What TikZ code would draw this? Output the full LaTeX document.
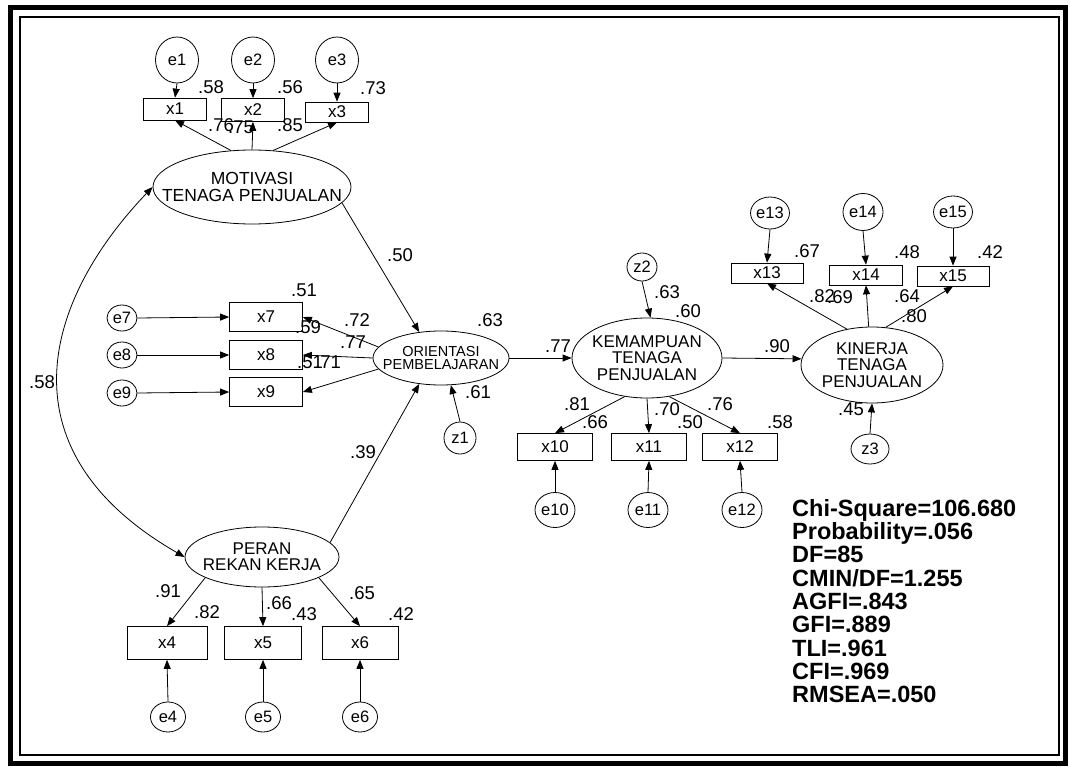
\documentclass[tikz,border=0pt]{standalone}
\usepackage{fontspec}
\setmainfont{Liberation Sans}
\usetikzlibrary{arrows.meta, positioning, shapes.geometric}

\begin{document}
\begin{tikzpicture}[x=1pt, y=-1pt,
  obs/.style={rectangle, draw, line width=0.7pt, inner sep=0pt, font=\fontsize{17}{17}\selectfont},
  err/.style={ellipse, draw, line width=0.8pt, inner sep=0pt, font=\fontsize{16.5}{16.5}\selectfont},
  lat/.style={ellipse, draw, line width=0.8pt, inner xsep=-40pt, inner ysep=-6pt, align=center,
              font=\fontsize{17}{16.3}\selectfont},
  coef/.style={inner sep=0pt, font=\fontsize{18.5}{18.5}\selectfont},
  arr/.style={-{Triangle[length=9pt,width=7pt]}, line width=0.8pt},
  cov/.style={{Triangle[length=9pt,width=7pt]}-{Triangle[length=9pt,width=7pt]}, line width=0.8pt}
]
\path[use as bounding box] (0,0) rectangle (1070,767);
% frame
\draw[line width=5pt] (10,8) rectangle (1065,763);
\draw[line width=1.2pt] (20,17) rectangle (1059,755);

% Motivasi tenaga penjualan
\node[lat, minimum width=198pt, minimum height=74pt, font=\fontsize{17.5}{16.3}\selectfont] (mot) at (252,187) {MOTIVASI\\TENAGA PENJUALAN};
\node[obs, minimum width=63pt, minimum height=22pt] (x1) at (175,109) {x1};
\node[obs, minimum width=63pt, minimum height=23pt] (x2) at (253,110) {x2};
\node[obs, minimum width=63pt, minimum height=20pt] (x3) at (337,112) {x3};
\node[err, minimum width=43pt, minimum height=46pt] (e1) at (177,60) {e1};
\node[err, minimum width=43pt, minimum height=46pt] (e2) at (253,60) {e2};
\node[err, minimum width=43pt, minimum height=46pt] (e3) at (337,60) {e3};
\draw[arr] (e1.south) -- (x1.north);
\draw[arr] (e2.south) -- (x2.north);
\draw[arr] (e3.south) -- (x3.north);
\draw[arr] (mot.120) -- (x1.south);
\draw[arr] (mot.north) -- (x2.south);
\draw[arr] (mot.60) -- (x3.south);
\node[coef] (r1) at (211,87) {.58};
\node[coef] (r2) at (290,87) {.56};
\node[coef] (r3) at (373,88) {.73};
\node[coef] (l1) at (221,125) {.76};
\node[coef] (l2) at (241,127) {.75};
\node[coef] (l3) at (290,125) {.85};

% Orientasi pembelajaran
\node[lat, minimum width=136pt, minimum height=54pt, font=\fontsize{14.5}{13.8}\selectfont] (ori) at (441,358) {ORIENTASI\\PEMBELAJARAN};
\node[obs, minimum width=73pt, minimum height=29pt] (x7) at (266,317) {x7};
\node[obs, minimum width=73pt, minimum height=29pt] (x8) at (266,355) {x8};
\node[obs, minimum width=73pt, minimum height=29pt] (x9) at (266,392) {x9};
\node[err, minimum width=30pt, minimum height=26pt] (e7) at (122,318) {e7};
\node[err, minimum width=30pt, minimum height=26pt] (e8) at (122,355) {e8};
\node[err, minimum width=30pt, minimum height=26pt] (e9) at (122,393) {e9};
\node[err, minimum width=32pt, minimum height=32pt] (z1) at (460,438) {z1};
\draw[arr] (e7.east) -- (x7.west);
\draw[arr] (e8.east) -- (x8.west);
\draw[arr] (e9.east) -- (x9.west);
\draw[arr] (ori.170) -- (x7.east);
\draw[arr] (ori.west) -- (x8.east);
\draw[arr] (ori.190) -- (x9.east);
\draw[arr] (z1.north) -- (ori.290);
\node[coef] (r7) at (304,290) {.51};
\node[coef] (l7) at (357,320) {.72};
\node[coef] (r8) at (308,327) {.59};
\node[coef] (l8) at (353,342) {.77};
\node[coef] (r9) at (310,362) {.51};
\node[coef] (l9) at (328,362) {.71};
\node[coef] (rori) at (490,320) {.63};
\node[coef] (dz1) at (478,392) {.61};

% Peran rekan kerja
\node[lat, minimum width=154pt, minimum height=60pt] (per) at (262,557) {PERAN\\REKAN KERJA};
\node[obs, minimum width=80pt, minimum height=33pt] (x4) at (167,643) {x4};
\node[obs, minimum width=77pt, minimum height=33pt] (x5) at (263,643) {x5};
\node[obs, minimum width=76pt, minimum height=33pt] (x6) at (360,643) {x6};
\node[err, minimum width=35pt, minimum height=30pt] (e4) at (168,717) {e4};
\node[err, minimum width=35pt, minimum height=30pt] (e5) at (263,717) {e5};
\node[err, minimum width=35pt, minimum height=30pt] (e6) at (360,717) {e6};
\draw[arr] (e4.north) -- (x4.south);
\draw[arr] (e5.north) -- (x5.south);
\draw[arr] (e6.north) -- (x6.south);
\draw[arr] (per.200) -- (x4.north);
\draw[arr] (per.south) -- (x5.north);
\draw[arr] (per.340) -- (x6.north);
\node[coef] (l4) at (168,591) {.91};
\node[coef] (r4) at (207,612) {.82};
\node[coef] (l5) at (279,603) {.66};
\node[coef] (r5) at (304,614) {.43};
\node[coef] (l6) at (362,593) {.65};
\node[coef] (r6) at (401,614) {.42};

% structural paths
\draw[cov] (mot.west) .. controls (41,304) and (2,452) .. (per.west);
\draw[arr] (mot.350) -- (ori.130);
\draw[arr] (per.12) -- (ori.230);
\node[coef] (cmp) at (42,382) {.58};
\node[coef] (bmo) at (400,255) {.50};
\node[coef] (bpo) at (363,452) {.39};

% Kemampuan tenaga penjualan
\node[lat, minimum width=150pt, minimum height=80pt] (kem) at (647,358) {KEMAMPUAN\\TENAGA\\PENJUALAN};
\node[err, minimum width=30pt, minimum height=28pt] (z2) at (642,267) {z2};
\node[obs, minimum width=75pt, minimum height=27pt] (x10) at (555,447) {x10};
\node[obs, minimum width=75pt, minimum height=27pt] (x11) at (649,447) {x11};
\node[obs, minimum width=75pt, minimum height=27pt] (x12) at (740,447) {x12};
\node[err, minimum width=40pt, minimum height=35pt] (e10) at (555,510) {e10};
\node[err, minimum width=40pt, minimum height=35pt] (e11) at (648,510) {e11};
\node[err, minimum width=40pt, minimum height=35pt] (e12) at (742,510) {e12};
\draw[arr] (ori.east) -- (kem.west);
\draw[arr] (z2.south) -- (kem.85);
\draw[arr] (kem.240) -- (x10.north);
\draw[arr] (kem.south) -- (x11.north);
\draw[arr] (kem.300) -- (x12.north);
\draw[arr] (e10.north) -- (x10.south);
\draw[arr] (e11.north) -- (x11.south);
\draw[arr] (e12.north) -- (x12.south);
\node[coef] (bok) at (558,346) {.77};
\node[coef] (dz2) at (667,292) {.63};
\node[coef] (rkem) at (688,311) {.60};
\node[coef] (l10) at (577,404) {.81};
\node[coef] (r10) at (595,422) {.66};
\node[coef] (l11) at (667,409) {.70};
\node[coef] (r11) at (690,422) {.50};
\node[coef] (l12) at (720,404) {.76};
\node[coef] (r12) at (780,422) {.58};

% Kinerja tenaga penjualan
\node[lat, minimum width=142pt, minimum height=76pt] (kin) at (872,365) {KINERJA\\TENAGA\\PENJUALAN};
\node[obs, minimum width=72pt, minimum height=20pt] (x13) at (767,273) {x13};
\node[obs, minimum width=73pt, minimum height=20pt] (x14) at (866,275) {x14};
\node[obs, minimum width=72pt, minimum height=20pt] (x15) at (953,276) {x15};
\node[err, minimum width=34pt, minimum height=32pt] (e13) at (770,213) {e13};
\node[err, minimum width=40pt, minimum height=37pt] (e14) at (863,212) {e14};
\node[err, minimum width=36pt, minimum height=32pt] (e15) at (953,212) {e15};
\node[err, minimum width=38pt, minimum height=30pt] (z3) at (870,449) {z3};
\draw[arr] (kem.east) -- (kin.175);
\draw[arr] (z3.north) -- (kin.south);
\draw[arr] (kin.125) -- (x13.south);
\draw[arr] (kin.95) -- (x14.south);
\draw[arr] (kin.70) -- (x15.south);
\draw[arr] (e13.south) -- (x13.north);
\draw[arr] (e14.south) -- (x14.north);
\draw[arr] (e15.south) -- (x15.north);
\node[coef] (bkk) at (777,346) {.90};
\node[coef] (dz3) at (851,409) {.45};
\node[coef] (r13) at (807,251) {.67};
\node[coef] (r14) at (907,252) {.48};
\node[coef] (r15) at (990,252) {.42};
\node[coef] (l13) at (822,296) {.82};
\node[coef] (l14) at (840,297) {.69};
\node[coef] (l15) at (907,296) {.64};
\node[coef] (rkin) at (914,316) {.80};

% fit statistics
\node[font=\fontsize{23.5}{23.3}\selectfont\bfseries, align=left, anchor=north west, inner sep=0pt] (fit) at (792,499)
  {Chi-Square=106.680\\Probability=.056\\DF=85\\CMIN/DF=1.255\\AGFI=.843\\GFI=.889\\TLI=.961\\CFI=.969\\RMSEA=.050};
\end{tikzpicture}
\end{document}
